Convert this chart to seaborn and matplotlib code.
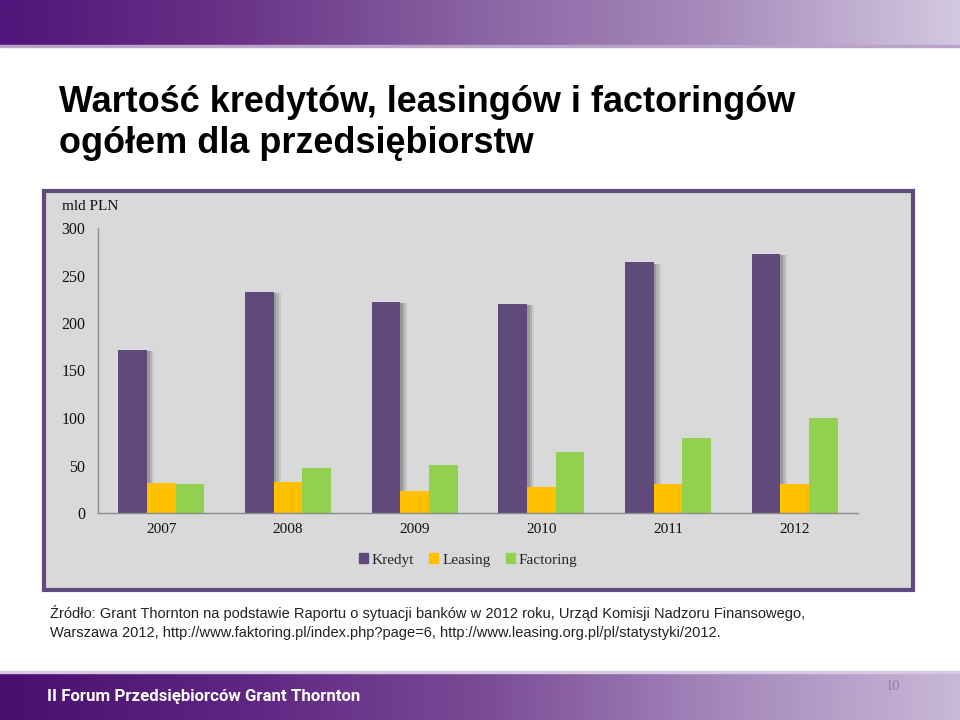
import numpy as np
import pandas as pd
import matplotlib
matplotlib.use("Agg")
import matplotlib.pyplot as plt
import matplotlib.patheffects as pe
from matplotlib.colors import LinearSegmentedColormap
from matplotlib.patches import Rectangle
import seaborn as sns

# ---- data ----
years = ["2007", "2008", "2009", "2010", "2011", "2012"]
kredyt = [172, 233, 222, 220, 264, 273]
leasing = [32, 33, 23, 27, 31, 31]
factoring = [31, 47, 51, 64, 79, 100]
series_names = ["Kredyt", "Leasing", "Factoring"]
series_colors = ["#604a7b", "#ffc000", "#92d050"]
yticks = [0, 50, 100, 150, 200, 250, 300]

title_line1 = "Wartość kredytów, leasingów i factoringów"
title_line2 = "ogółem dla przedsiębiorstw"
source_line1 = ("Źródło: Grant Thornton na podstawie Raportu o sytuacji banków w 2012 roku, "
                "Urząd Komisji Nadzoru Finansowego,")
source_line2 = "Warszawa 2012, http://www.faktoring.pl/index.php?page=6, http://www.leasing.org.pl/pl/statystyki/2012."
footer_text = "II Forum Przedsiębiorców Grant Thornton"
page_no = "10"

df = pd.DataFrame({
    "Rok": years * 3,
    "Seria": sum([[s] * len(years) for s in series_names], []),
    "Wartosc": kredyt + leasing + factoring,
})

sns.set_theme(style="white")
plt.rcParams["font.family"] = ["Liberation Sans", "DejaVu Sans"]

W, H = 960, 720
fig = plt.figure(figsize=(9.6, 7.2), dpi=100)
fig.patch.set_facecolor("white")

# background axes in pixel coords
bg = fig.add_axes([0, 0, 1, 1])
bg.set_xlim(0, W)
bg.set_ylim(H, 0)
bg.axis("off")

top_cmap = LinearSegmentedColormap.from_list("top", ["#50147a", "#6a3487", "#8a64a3", "#a88dbd", "#d3c8e0"])
grad = np.linspace(0, 1, 512).reshape(1, -1)
bg.imshow(grad, cmap=top_cmap, extent=[0, W, 45, 0], aspect="auto", zorder=1)
bg.add_patch(Rectangle((0, 45), W, 2, color="#b9a3c9", zorder=2))

bot_cmap = LinearSegmentedColormap.from_list("bot", ["#4a0f6e", "#5e2582", "#7a4a95", "#a487bb", "#c9b8d8"])
bg.imshow(grad, cmap=bot_cmap, extent=[0, W, H, 672], aspect="auto", zorder=1)
bg.add_patch(Rectangle((0, 671), W, 1.5, color="#d8c8e4", zorder=2))

bg.text(59, 112, title_line1, fontsize=25.9, fontweight="bold", color="black",
        va="baseline", ha="left", zorder=3)
bg.text(59, 153, title_line2, fontsize=25.9, fontweight="bold", color="black",
        va="baseline", ha="left", zorder=3)

bg.text(50, 613, source_line1, fontsize=10.5, color="#222222", va="center", ha="left", zorder=3)
bg.text(50, 633, source_line2, fontsize=10.5, color="#222222", va="center", ha="left", zorder=3)
bg.text(47, 696, footer_text, fontsize=12.2, fontweight="bold", color="white",
        family=["Roboto", "DejaVu Sans"], va="center", ha="left", zorder=3)
bg.text(893, 687, page_no, fontsize=10.5, color="#8c7f99", family=["Liberation Serif"],
        va="center", ha="center", zorder=3)

# chart box
bg.add_patch(Rectangle((44, 191), 869, 399, facecolor="#d9d9d9", edgecolor="#5e4a7e",
                       linewidth=3, zorder=2))
bg.text(62, 207, "mld PLN", fontsize=11, family=["Liberation Serif"], color="#111111",
        va="center", ha="left", zorder=3)

# chart axes
x0, x1, ytop, ybot = 98, 858, 228, 513
ax = fig.add_axes([x0 / W, 1 - ybot / H, (x1 - x0) / W, (ybot - ytop) / H])
ax.set_facecolor("none")

sns.barplot(data=df, x="Rok", y="Wartosc", hue="Seria", hue_order=series_names,
            palette=series_colors, width=0.68, gap=0, saturation=1, ax=ax,
            legend=False, linewidth=0, err_kws={"linewidth": 0})

# soft shadow for Kredyt bars
nb = len(years)
for patch in ax.patches[:nb]:
    patch.set_path_effects([
        pe.SimplePatchShadow(offset=(5, -1), shadow_rgbFace="#9a9a9a", alpha=0.25),
        pe.SimplePatchShadow(offset=(3.5, -1), shadow_rgbFace="#808080", alpha=0.3),
        pe.SimplePatchShadow(offset=(2, -1), shadow_rgbFace="#6a6a6a", alpha=0.35),
        pe.Normal()])

ax.set_xlim(-0.5, len(years) - 0.5)
ax.set_ylim(0, 300)
ax.set_yticks(yticks)
ax.set_yticklabels([str(v) for v in yticks], family="Liberation Serif", fontsize=11.5, color="#111111")
ax.set_xticks(range(len(years)))
ax.set_xticklabels(years, family="Liberation Serif", fontsize=11, color="#111111")
ax.set_xticks(np.arange(-0.5, len(years)), minor=True)
ax.tick_params(axis="x", which="major", length=0, pad=7)
ax.tick_params(axis="x", which="minor", length=5, width=1, color="#8c8c8c", direction="out")
ax.tick_params(axis="y", which="major", length=4, width=1, color="#8c8c8c", direction="out", pad=5)
ax.set_xlabel("")
ax.set_ylabel("")
for s in ["top", "right"]:
    ax.spines[s].set_visible(False)
for s in ["left", "bottom"]:
    ax.spines[s].set_color("#8c8c8c")
    ax.spines[s].set_linewidth(1)

# legend
handles = [Rectangle((0, 0), 1, 1, color=c) for c in series_colors]
leg = fig.legend(handles, series_names, loc="center", bbox_to_anchor=(468 / W, 1 - 560 / H),
                 ncol=3, frameon=False, handlelength=0.6, handleheight=0.6, handletextpad=0.25,
                 columnspacing=1.0, prop={"family": "Liberation Serif", "size": 11})

fig.savefig("out.png", dpi=100)
